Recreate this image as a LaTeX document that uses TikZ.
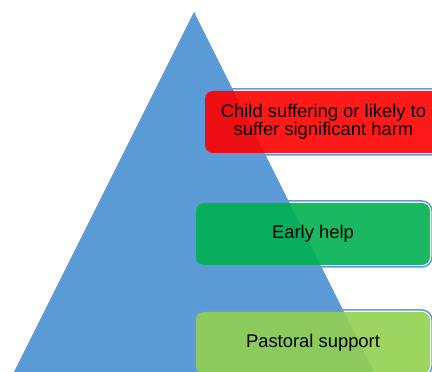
\documentclass[tikz,border=0pt]{standalone}
\usepackage{fontspec}
\setmainfont{Liberation Sans}
\usetikzlibrary{positioning}
\definecolor{triblue}{RGB}{91,155,213}
\definecolor{rimblue}{RGB}{100,152,222}
\definecolor{officegreen}{RGB}{0,176,80}
\definecolor{limegreen}{RGB}{146,208,80}
\tikzset{level/.style={rounded corners=8pt, fill opacity=0.9, text opacity=1, inner sep=0pt, minimum height=62pt, align=center, font=\fontsize{18.4}{15.7}\selectfont}}
\tikzset{levelrim/.style={draw=rimblue, line width=1.5pt, rounded corners=10pt, inner sep=0pt, minimum height=66pt}}
\begin{document}
\begin{tikzpicture}[x=1pt,y=1pt]
\useasboundingbox (0,0) rectangle (432,372);
\clip (0,0) rectangle (432,372);
\fill[triblue] (194,360) -- (374,0) -- (14,0) -- cycle;
% rims behind the levels
\node[levelrim, minimum width=241pt] (harmrim) at (323.5,250) {};
\node[levelrim, minimum width=238pt] (helprim) at (313,138) {};
\node[levelrim, minimum width=238pt] (pastoralrim) at (313,29) {};
% levels
\node[level, fill=red, minimum width=237pt] (harm) at (harmrim.center) {Child suffering or likely to\\suffer significant harm};
\node[level, fill=officegreen, minimum width=234pt] (help) at (helprim.center) {Early help};
\node[level, fill=limegreen, minimum width=234pt] (pastoral) at (pastoralrim.center) {Pastoral support};
\end{tikzpicture}
\end{document}
